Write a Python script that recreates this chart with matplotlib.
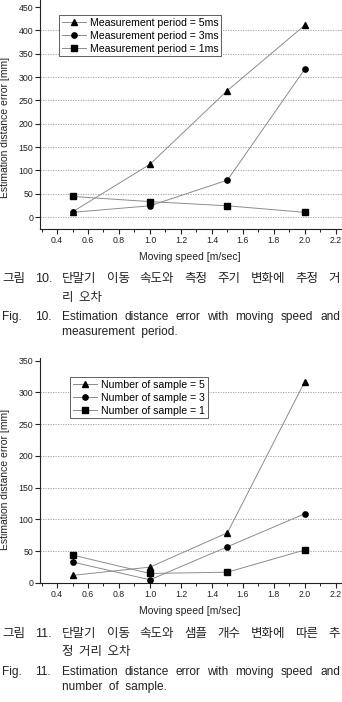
import matplotlib
matplotlib.use('Agg')
import matplotlib.pyplot as plt
from matplotlib.ticker import MultipleLocator, FormatStrFormatter

# ---------------- data ----------------
speed = [0.5, 1.0, 1.5, 2.0]

period_labels = ['Measurement period = 5ms', 'Measurement period = 3ms',
                 'Measurement period = 1ms']
err_5ms = [11, 113, 271, 411]
err_3ms = [10, 24, 79, 317]
err_1ms = [44, 33, 24, 10]

sample_labels = ['Number of sample = 5', 'Number of sample = 3',
                 'Number of sample = 1']
err_s5 = [12, 25, 79, 317]
err_s3 = [33, 5, 57, 109]
err_s1 = [44, 15, 17, 52]

markers = ['^', 'o', 's']

x_ticks = [0.4, 0.6, 0.8, 1.0, 1.2, 1.4, 1.6, 1.8, 2.0, 2.2]
y_ticks1 = [0, 50, 100, 150, 200, 250, 300, 350, 400, 450]
y_ticks2 = [0, 50, 100, 150, 200, 250, 300, 350]

xlabel = 'Moving speed [m/sec]'
ylabel = 'Estimation distance error [mm]'

cap1_ko_head = ['그림', '10.']
cap1_ko_words = ['단말기', '이동', '속도와', '측정', '주기', '변화에', '추정', '거']
cap1_ko_cont = '리  오차'
cap1_en_head = ['Fig.', '10.']
cap1_en_words = ['Estimation', 'distance', 'error', 'with', 'moving', 'speed', 'and']
cap1_en_cont = 'measurement  period.'

cap2_ko_head = ['그림', '11.']
cap2_ko_words = ['단말기', '이동', '속도와', '샘플', '개수', '변화에', '따른', '추']
cap2_ko_cont = '정  거리  오차'
cap2_en_head = ['Fig.', '11.']
cap2_en_words = ['Estimation', 'distance', 'error', 'with', 'moving', 'speed', 'and']
cap2_en_cont = 'number  of  sample.'

# ---------------- figure ----------------
plt.rcParams['font.family'] = ['Liberation Sans', 'DejaVu Sans']
W, H = 342, 702
fig = plt.figure(figsize=(W / 100, H / 100), dpi=100)
fig.patch.set_facecolor('white')

KO = ['Noto Sans CJK KR', 'DejaVu Sans']
EN = ['Liberation Sans', 'DejaVu Sans']
INK = '#222222'


def rect(l, t, r, b):
    return [l / W, 1 - b / H, (r - l) / W, (b - t) / H]


def style_axes(ax, yticks, ylim, ylab_y):
    for s in ['top', 'right']:
        ax.spines[s].set_visible(False)
    for s in ['left', 'bottom']:
        ax.spines[s].set_linewidth(0.8)
        ax.spines[s].set_color(INK)
    ax.set_xlim(0.29, 2.24)
    ax.set_ylim(*ylim)
    ax.set_xticks(x_ticks)
    ax.xaxis.set_minor_locator(MultipleLocator(0.1))
    ax.xaxis.set_major_formatter(FormatStrFormatter('%.1f'))
    ax.set_yticks(yticks)
    ax.tick_params(axis='both', which='major', direction='out', length=3.5,
                   width=0.8, labelsize=6.3, pad=1.5, colors=INK)
    ax.tick_params(axis='x', which='minor', direction='out', length=2,
                   width=0.7, colors=INK)
    for v in yticks[:-1]:
        ax.axhline(v, color='#9a9a9a', lw=0.6, ls=(0, (1.5, 1.5)), zorder=0)
    ax.set_ylabel(ylabel, fontsize=7.5, color=INK)
    ax.yaxis.set_label_coords(-0.099, ylab_y)


def plot_series(ax, series, labels, leg_xy):
    for ys, m, lab in zip(series, markers, labels):
        ax.plot(speed, ys, color='#8c8c8c', lw=0.7, marker=m,
                markersize=4.2 if m == '^' else 3.8,
                mfc='black', mec='black', label=lab, zorder=3, clip_on=False)
    leg = ax.legend(loc='upper left', bbox_to_anchor=(leg_xy[0] / W, 1 - leg_xy[1] / H),
                    bbox_transform=fig.transFigure, borderaxespad=0,
                    fancybox=False, framealpha=1, edgecolor='#444444',
                    fontsize=7.6, handlelength=2.3, handletextpad=0.4,
                    labelspacing=0.28, borderpad=0.25)
    leg.get_frame().set_linewidth(0.6)


ax1 = fig.add_axes(rect(40, 0, 342, 229))
style_axes(ax1, y_ticks1, (-25.7, 465), 0.445)
plot_series(ax1, [err_5ms, err_3ms, err_1ms], period_labels, (59, 15))

ax2 = fig.add_axes(rect(40, 358, 342, 583))
style_axes(ax2, y_ticks2, (0, 354), 0.462)
plot_series(ax2, [err_s5, err_s3, err_s1], sample_labels, (70, 377))

fig.text(190 / W, 1 - 257 / H, xlabel, fontsize=7.5, ha='center', va='center', color=INK)
fig.text(190 / W, 1 - 611 / H, xlabel, fontsize=7.5, ha='center', va='center', color=INK)

renderer = fig.canvas.get_renderer()


def justified(y_px, words, x0, x1, size, family):
    texts = [fig.text(0, 1 - y_px / H, w, fontsize=size, family=family,
                      va='center', ha='left', color=INK) for w in words]
    widths = [t.get_window_extent(renderer).width for t in texts]
    gap = (x1 - x0 - sum(widths)) / (len(words) - 1)
    x = x0
    for t, w in zip(texts, widths):
        t.set_x(x / W)
        x += w + gap


def caption(y0, ko_head, ko_words, ko_cont, en_head, en_words, en_cont, dy):
    ys = [y0, y0 + dy[0], y0 + dy[0] + dy[1], y0 + dy[0] + dy[1] + dy[2]]
    fig.text(2 / W, 1 - ys[0] / H, ko_head[0], fontsize=9, family=KO, va='center', color=INK)
    fig.text(35 / W, 1 - ys[0] / H, ko_head[1], fontsize=9, family=EN, va='center', color=INK)
    justified(ys[0], ko_words, 62, 340, 9, KO)
    fig.text(62 / W, 1 - ys[1] / H, ko_cont, fontsize=9, family=KO, va='center', color=INK)
    fig.text(2 / W, 1 - ys[2] / H, en_head[0], fontsize=8.6, family=EN, va='center', color=INK)
    fig.text(35 / W, 1 - ys[2] / H, en_head[1], fontsize=8.6, family=EN, va='center', color=INK)
    justified(ys[2], en_words, 62, 340, 8.6, EN)
    fig.text(62 / W, 1 - ys[3] / H, en_cont, fontsize=8.6, family=EN, va='center', color=INK)


caption(279, cap1_ko_head, cap1_ko_words, cap1_ko_cont,
        cap1_en_head, cap1_en_words, cap1_en_cont, (18, 20, 15))
caption(634, cap2_ko_head, cap2_ko_words, cap2_ko_cont,
        cap2_en_head, cap2_en_words, cap2_en_cont, (18, 20, 15))

fig.savefig('out.png', dpi=100, facecolor='white')
